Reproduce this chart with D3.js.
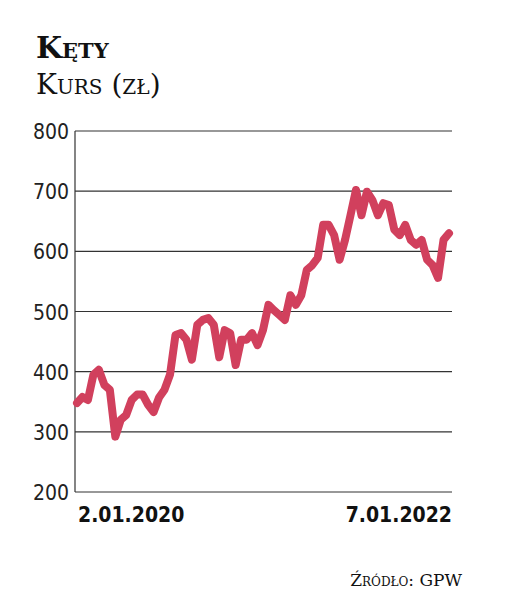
<!DOCTYPE html><html><head><meta charset="utf-8"><script src="https://cdn.jsdelivr.net/npm/d3@7"></script>
<style>body{margin:0;background:#fff}</style></head><body><svg id="c" width="505" height="593"></svg><script>
const prices=[348,358,353,395,403,378,370,292,320,328,353,362,362,345,333,357,370,395,461,464,453,420,478,486,489,478,424,469,464,411,453,453,464,444,469,511,502,494,486,527,511,527,569,577,589,644,644,627,586,619,660,702,660,699,685,660,680,677,636,627,644,619,611,619,586,577,556,619,630];
const yTicks=[200,300,400,500,600,700,800];
const xLabels=["2.01.2020","7.01.2022"];
const svg=d3.select("#c");
const L=75,R=452,T=131,B=492;
const x=d3.scaleLinear().domain([0,prices.length-1]).range([L+2,R-3]);
const y=d3.scaleLinear().domain([200,800]).range([B,T]);
svg.append("g").selectAll("line").data(yTicks).join("line").attr("x1",L).attr("x2",R).attr("y1",d=>y(d)).attr("y2",d=>y(d)).attr("stroke","#333").attr("stroke-width",1.2);
svg.append("line").attr("x1",L).attr("x2",L).attr("y1",T).attr("y2",B).attr("stroke","#333").attr("stroke-width",1.2);
svg.append("g").selectAll("text").data(yTicks).join("text").attr("x",L-6).attr("y",d=>y(d)+8).attr("text-anchor","end").attr("font-family","DejaVu Sans Condensed, DejaVu Sans").attr("font-size",21).attr("fill","#222").text(d=>d);
svg.append("path").datum(prices).attr("d",d3.line().x((d,i)=>x(i)).y(d=>y(d)).curve(d3.curveLinear)).attr("fill","none").attr("stroke","#d1405d").attr("stroke-width",8).attr("stroke-linejoin","round").attr("stroke-linecap","round");
svg.append("text").attr("x",L+3).attr("y",522).attr("font-family","DejaVu Sans Condensed, DejaVu Sans").attr("font-weight","bold").attr("font-size",21).attr("fill","#111").text(xLabels[0]);
svg.append("text").attr("x",R).attr("y",522).attr("text-anchor","end").attr("font-family","DejaVu Sans Condensed, DejaVu Sans").attr("font-weight","bold").attr("font-size",21).attr("fill","#111").text(xLabels[1]);
svg.append("text").attr("x",36).attr("y",58).attr("font-family","DejaVu Serif").attr("font-weight","bold").attr("font-size",30).style("font-variant","small-caps").attr("fill","#111").text("Kęty");
svg.append("text").attr("x",36).attr("y",94).attr("font-family","DejaVu Serif").attr("font-size",28).style("font-variant","small-caps").attr("fill","#111").text("Kurs (zł)");
svg.append("text").attr("x",462).attr("y",586).attr("text-anchor","end").attr("font-family","DejaVu Serif").attr("font-size",17).style("font-variant","small-caps").attr("fill","#111").text("Źródło: GPW");
</script></body></html>
